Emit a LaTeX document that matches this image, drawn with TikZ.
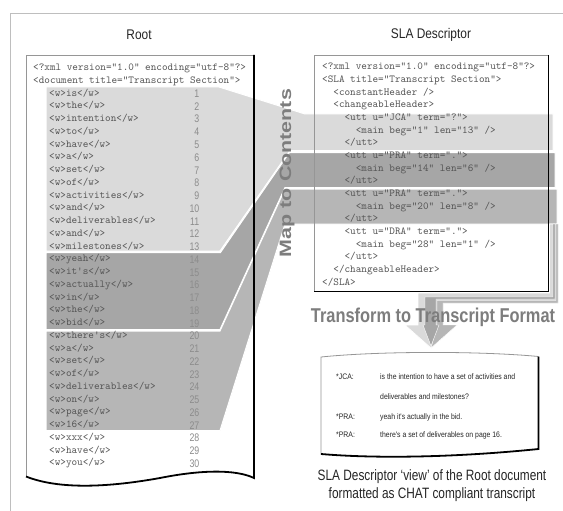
\documentclass[tikz,border=0pt]{standalone}
\usepackage{fontspec}
\setmainfont{Liberation Sans}
\setmonofont{Latin Modern Mono}
\newfontfamily\ttlf[FakeStretch=0.85]{Liberation Sans}
\newfontfamily\mapf[FakeStretch=1.3]{Liberation Sans}
\newfontfamily\trf[FakeStretch=0.82]{Liberation Sans}
\newfontfamily\capf[FakeStretch=0.79]{Liberation Sans}
\newfontfamily\numf[FakeStretch=0.8]{Liberation Sans}
\newfontfamily\chatf[FakeStretch=0.86]{Liberation Sans}
\definecolor{bandA}{RGB}{218,218,218}
\definecolor{bandB}{RGB}{166,166,166}
\definecolor{bandC}{RGB}{182,182,182}
\definecolor{codegray}{RGB}{85,85,85}
\definecolor{numgray}{RGB}{140,140,140}
\definecolor{framegray}{RGB}{190,190,190}
\definecolor{boxgray}{RGB}{150,150,150}
\definecolor{bigtext}{RGB}{125,125,125}
\tikzset{
  code/.style={font=\ttfamily\fontsize{10.67}{12}\selectfont, text=codegray, anchor=west, inner sep=0pt, text height=6.5pt, text depth=1.5pt},
  num/.style={font=\numf\fontsize{11}{12}\selectfont, text=numgray, anchor=east, inner sep=0pt, text height=8pt, text depth=0pt},
  ttl/.style={font=\ttlf\fontsize{14}{16}\selectfont, text=black!85, inner sep=0pt},
  chat/.style={font=\chatf\fontsize{8}{9}\selectfont, text=black!85, anchor=west, inner sep=0pt},
  capt/.style={font=\capf\fontsize{15}{17}\selectfont, text=black!85, inner sep=0pt},
  bandline/.style={draw=white, line width=1pt},
  thinedge/.style={draw=boxgray, line width=0.8pt},
  shadowedge/.style={draw=black, line width=1.8pt}
}
\begin{document}
\begin{tikzpicture}[x=1pt,y=-1pt]
\useasboundingbox (0,0) rectangle (563,511);
\fill[white] (0,0) rectangle (563,511);
% outer frame
\draw[framegray, line width=0.8pt] (10,511) -- (10,13) -- (563,13);
% box fills
\fill[white] (26,55) -- (254,55) -- (254,478) .. controls (235,469) and (200,470) .. (160,478) .. controls (110,487) and (60,490) .. (26,476.5) -- cycle;
\fill[white] (314,55) rectangle (549,292);
\fill[white] (321,357) .. controls (380,351) and (480,351) .. (538.5,356.5) -- (538.5,449) .. controls (460,457) and (380,459) .. (321,454) -- cycle;
% bands
\filldraw[fill=bandA, bandline] (46,87) -- (219,87) -- (305,114) -- (553,114) -- (553,150.5) -- (290,150.5) -- (220,251) -- (46,251) -- cycle;
\filldraw[fill=bandB, bandline] (46,252.5) -- (220.5,252.5) -- (289.5,152.5) -- (555,152.5) -- (555,187.5) -- (285,187.5) -- (220,329.5) -- (46,329.5) -- cycle;
\filldraw[fill=bandC, bandline] (46,331) -- (220,331) -- (285,189) -- (557,189) -- (557,224) -- (285,224) -- (220,430.5) -- (46,430.5) -- cycle;
% ribbon arrow
\filldraw[fill=bandA, draw=white, line width=0.6pt] (549.5,224) -- (558,224) -- (558,303) -- (443,303) -- (443,325) -- (457,325) -- (431,348) -- (405,325) -- (418,325) -- (418,293) -- (549.5,293) -- cycle;
\filldraw[fill=bandC, draw=white, line width=0.4pt] (556,224) -- (558,224) -- (558,303) -- (443,303) -- (443,325) -- (457,325) -- (431,348) -- (437,325) -- (437,300.5) -- (556,300.5) -- cycle;
\filldraw[fill=bandB, draw=white, line width=0.4pt] (553,224) -- (555,224) -- (555,299) -- (436,299) -- (436,325) -- (439,325) -- (431,346) -- (423,325) -- (425,325) -- (425,297) -- (553,297) -- cycle;
% box borders
\draw[thinedge] (254,55) -- (26,55) -- (26,476.5);
\draw[shadowedge] (254,55) -- (254,478) .. controls (235,469) and (200,470) .. (160,478) .. controls (110,487) and (60,490) .. (26,476.5);
\draw[thinedge] (549,55) -- (314,55) -- (314,292);
\draw[shadowedge] (548.5,55) -- (548.5,291.5) -- (314,291.5);
\draw[thinedge] (321,454) -- (321,357) .. controls (380,351) and (480,351) .. (538.5,356.5);
\draw[shadowedge] (538.5,356.5) -- (538.5,449) .. controls (460,457) and (380,459) .. (321,454);
% titles
\node[ttl] (root) at (139,35) {Root};
\node[ttl] (sla) at (431,35) {SLA Descriptor};
% left code
\node[code] (x1) at (33,68) {<?xml version="1.0" encoding="utf-8"?>};
\node[code] (x2) at (33,80.75) {<document title="Transcript Section">};
\foreach \w [count=\i] in {is,the,intention,to,have,a,set,of,activities,and,deliverables,and,milestones,yeah,it's,actually,in,the,bid,there's,a,set,of,deliverables,on,page,16,xxx,have,you}{
  \node[code] (w\i) at (49,{68+(\i+1)*12.75}) {<w>\w</w>};
  \node[num] (n\i) at (199.5,{68+(\i+1)*12.75}) {\i};
}
% SLA code
\node[code] (s0) at (322,67.5) {<?xml version="1.0" encoding="utf-8"?>};
\node[code] (s1) at (322,80.15) {<SLA title="Transcript Section">};
\node[code] (s2) at (333.2,92.8) {<constantHeader />};
\node[code] (s3) at (333.2,105.45) {<changeableHeader>};
\node[code] (s4) at (344.4,118.1) {<utt u="JCA" term="?">};
\node[code] (s5) at (355.6,130.75) {<main beg="1" len="13" />};
\node[code] (s6) at (344.4,143.4) {</utt>};
\node[code] (s7) at (344.4,156.05) {<utt u="PRA" term=".">};
\node[code] (s8) at (355.6,168.7) {<main beg="14" len="6" />};
\node[code] (s9) at (344.4,181.35) {</utt>};
\node[code] (s10) at (344.4,194) {<utt u="PRA" term=".">};
\node[code] (s11) at (355.6,206.65) {<main beg="20" len="8" />};
\node[code] (s12) at (344.4,219.3) {</utt>};
\node[code] (s13) at (344.4,231.95) {<utt u="DRA" term=".">};
\node[code] (s14) at (355.6,244.6) {<main beg="28" len="1" />};
\node[code] (s15) at (344.4,257.25) {</utt>};
\node[code] (s16) at (333.2,269.9) {</changeableHeader>};
\node[code] (s17) at (322,282.55) {</SLA>};
% big labels
\node[rotate=90, font=\mapf\bfseries\fontsize{16.5}{18}\selectfont, text=bigtext, inner sep=0pt] (map) at (287,173) {Map to Contents};
\node[font=\trf\bfseries\fontsize{20}{22}\selectfont, text=bigtext, inner sep=0pt] (trans) at (433,317) {Transform to Transcript Format};
% transcript
\node[chat] (sp1) at (336,377) {*JCA:};
\node[chat] (u1) at (380,377) {is the intention to have a set of activities and};
\node[chat] (u1b) at (380,397) {deliverables and milestones?};
\node[chat] (sp2) at (336,417) {*PRA:};
\node[chat] (u2) at (380,417) {yeah it's actually in the bid.};
\node[chat] (sp3) at (336,435) {*PRA:};
\node[chat] (u3) at (380,435) {there's a set of deliverables on page 16.};
% caption
\node[capt] (c1) at (432,477) {SLA Descriptor ‘view’ of the Root document};
\node[capt] (c2) at (432,495) {formatted as CHAT compliant transcript};
\end{tikzpicture}
\end{document}
